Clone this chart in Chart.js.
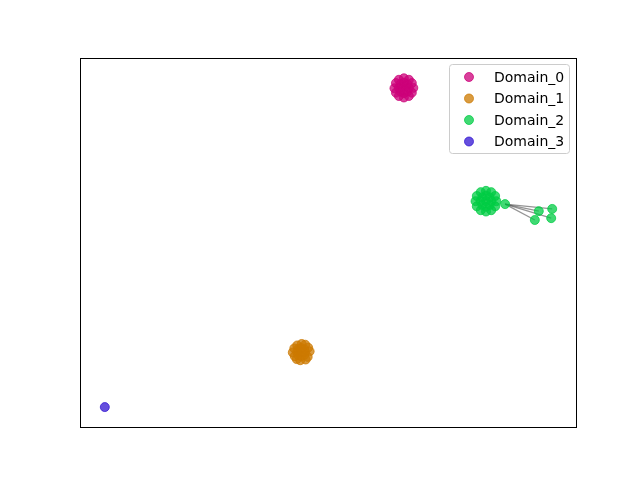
<!DOCTYPE html>
<html>
<head>
    <title>Domains</title>
    <script src="https://cdn.jsdelivr.net/npm/chart.js"></script>
    <style>
        body { margin: 0; background: #fff; }
        .chart-container { width: 640px; height: 480px; }
    </style>
</head>
<body>
    <div class="chart-container">
        <canvas id="domainChart" width="640" height="480"></canvas>
    </div>

    <script>
        // Domain labels and their colours
        const domainNames = ['Domain_0', 'Domain_1', 'Domain_2', 'Domain_3'];
        const domainColors = ['rgba(204,0,122,0.75)', 'rgba(204,122,0,0.75)', 'rgba(0,204,68,0.75)', 'rgba(50,20,210,0.75)'];

        // Embedding points of each domain (x, y)
        const domain0X = [65.3, 66.3, 64.3, 65.3, 65.3, 66.0, 64.6, 66.0, 64.6,
            67.2, 63.4, 65.3, 65.3, 66.9, 63.7, 66.9, 63.7, 66.3, 64.3, 66.3, 64.3];
        const domain0Y = [91.9, 91.9, 91.9, 93.3, 90.5, 92.9, 92.9, 90.9, 90.9,
            91.9, 91.8, 94.5, 89.3, 93.2, 93.2, 90.6, 90.6, 94.1, 94.1, 89.7, 89.7];

        const domain1X = [44.6, 45.4, 43.8, 44.6, 44.6, 45.2, 44.0, 45.2, 44.0,
            46.3, 42.9, 44.7, 44.4, 46.0, 43.2, 45.9, 43.3, 45.4, 43.8, 45.5, 43.7];
        const domain1Y = [20.3, 20.3, 20.3, 21.4, 19.2, 21.1, 21.1, 19.5, 19.5,
            20.5, 20.2, 22.5, 18.1, 21.5, 21.3, 19.0, 19.2, 22.3, 22.1, 18.3, 18.4];

        const domain2X = [81.85, 82.95, 80.75, 81.85, 81.85, 82.6, 81.1, 82.6, 81.1,
            83.95, 79.75, 81.85, 81.85, 83.7, 80.0, 83.7, 80.0, 82.9, 80.8, 82.9, 80.8,
            85.7, 92.5, 95.2, 91.7, 95.0];
        const domain2Y = [61.2, 61.2, 61.2, 62.7, 59.7, 62.25, 62.25, 60.15, 60.15,
            61.2, 61.2, 64.0, 58.4, 62.6, 62.6, 59.8, 59.8, 63.65, 63.65, 58.75, 58.75,
            60.4, 58.5, 59.1, 56.1, 56.6];

        const domain3X = [5.0];
        const domain3Y = [5.4];

        // Links between points of Domain_2 (index pairs)
        const links = [[21, 22], [21, 23], [21, 24], [21, 25]];

        const xs = [domain0X, domain1X, domain2X, domain3X];
        const ys = [domain0Y, domain1Y, domain2Y, domain3Y];

        const datasets = [];
        links.forEach(pair => {
            datasets.push({
                type: 'line',
                label: 'link',
                data: pair.map(i => ({ x: domain2X[i], y: domain2Y[i] })),
                borderColor: 'rgba(60,60,60,0.55)',
                borderWidth: 1.2,
                pointRadius: 0,
                showLine: true,
                fill: false,
                order: 2
            });
        });
        domainNames.forEach((name, d) => {
            datasets.push({
                type: 'scatter',
                label: name,
                data: xs[d].map((x, i) => ({ x: x, y: ys[d][i] })),
                backgroundColor: domainColors[d],
                borderColor: domainColors[d],
                borderWidth: 1,
                pointRadius: 4.5,
                pointHoverRadius: 4.5,
                order: 1
            });
        });

        // frame around the plot area + matplotlib-like legend
        const framePlugin = {
            id: 'frame',
            afterDraw(chart) {
                const ctx = chart.ctx;
                const a = chart.chartArea;
                ctx.save();
                ctx.strokeStyle = '#000';
                ctx.lineWidth = 1;
                ctx.strokeRect(Math.round(a.left) + 0.5, Math.round(a.top) + 0.5,
                    Math.round(a.right - a.left), Math.round(a.bottom - a.top));

                // legend box
                const bx = 449.5, by = 64.5, bw = 120, bh = 89, r = 3;
                ctx.beginPath();
                ctx.moveTo(bx + r, by);
                ctx.arcTo(bx + bw, by, bx + bw, by + bh, r);
                ctx.arcTo(bx + bw, by + bh, bx, by + bh, r);
                ctx.arcTo(bx, by + bh, bx, by, r);
                ctx.arcTo(bx, by, bx + bw, by, r);
                ctx.closePath();
                ctx.fillStyle = 'rgba(255,255,255,0.8)';
                ctx.fill();
                ctx.strokeStyle = '#cccccc';
                ctx.stroke();

                ctx.font = '14px "DejaVu Sans"';
                ctx.textBaseline = 'middle';
                domainNames.forEach((name, i) => {
                    const cy = 77 + i * 21.5;
                    ctx.beginPath();
                    ctx.arc(469, cy, 4.5, 0, Math.PI * 2);
                    ctx.fillStyle = domainColors[i];
                    ctx.fill();
                    ctx.strokeStyle = domainColors[i];
                    ctx.stroke();
                    ctx.fillStyle = '#000';
                    ctx.fillText(name, 494, cy + 1);
                });
                ctx.restore();
            }
        };

        new Chart(document.getElementById('domainChart'), {
            type: 'scatter',
            data: { datasets: datasets },
            options: {
                responsive: false,
                animation: false,
                layout: { padding: { left: 80, right: 64, top: 58, bottom: 53 } },
                scales: {
                    x: { display: false, min: 0, max: 100 },
                    y: { display: false, min: 0, max: 100 }
                },
                plugins: {
                    legend: { display: false },
                    tooltip: { enabled: false }
                }
            },
            plugins: [framePlugin]
        });
    </script>
</body>
</html>
